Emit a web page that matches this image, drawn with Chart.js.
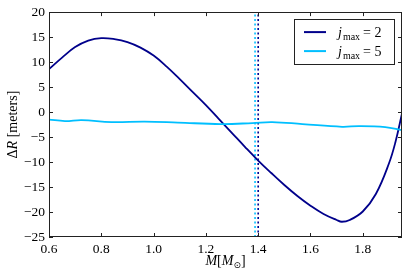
<!DOCTYPE html>
<html><head><meta charset="utf-8">
<script src="https://cdn.jsdelivr.net/npm/chart.js@4/dist/chart.umd.min.js"></script>
<style>html,body{margin:0;padding:0;background:#fff;}#wrap{width:407px;height:274px;}</style>
</head><body><div id="wrap"><canvas id="c" width="407" height="274"></canvas></div>
<script>
// ---- data ----
const massDark = [0.60,0.65,0.70,0.75,0.80,0.85,0.90,0.95,1.00,1.05,1.10,1.15,1.20,1.25,1.30,1.35,1.40,1.45,1.50,1.55,1.60,1.65,1.70,1.72,1.75,1.80,1.85,1.90,1.925,1.95];
const dRDark   = [8.6,10.9,13.0,14.3,14.8,14.6,14.0,12.9,11.3,9.1,6.6,4.0,1.4,-1.4,-4.2,-7.0,-9.7,-12.2,-14.6,-16.8,-18.75,-20.4,-21.6,-21.95,-21.6,-19.9,-16.4,-10.3,-6.0,-0.3];
const massLight = [0.60,0.661,0.725,0.839,0.966,1.093,1.258,1.378,1.454,1.569,1.721,1.785,1.886,1.95];
const dRLight   = [-1.5,-1.8,-1.6,-2.0,-1.9,-2.1,-2.4,-2.2,-2.0,-2.4,-2.95,-2.8,-3.0,-3.6];
const refMassDark = 1.40;
const refMassLight = 1.388;
const seriesJ = ['2','5'];
const xTicks = [0.6,0.8,1.0,1.2,1.4,1.6,1.8];
const xTickLabels = ['0.6','0.8','1.0','1.2','1.4','1.6','1.8'];
const yTicks = [-25,-20,-15,-10,-5,0,5,10,15,20];
const yTickLabels = ['\u221225','\u221220','\u221215','\u221210','\u22125','0','5','10','15','20'];
const xRange = [0.6,1.95];
const yRange = [-25,20];

const DARK = '#00008B', LIGHT = '#00BFFF';
const SERIF = '"Liberation Serif","DejaVu Serif",serif';

function pts(xs, ys){ return xs.map((x,i)=>({x:x,y:ys[i]})); }

const decor = {
  id:'decor',
  afterDraw(chart){
    const ctx = chart.ctx, a = chart.chartArea;
    const xs = chart.scales.x, ys = chart.scales.y;
    ctx.save();
    // frame
    ctx.strokeStyle = '#222'; ctx.lineWidth = 1;
    ctx.strokeRect(Math.round(a.left)+0.5, Math.round(a.top)+0.5, Math.round(a.right-a.left)-1, Math.round(a.bottom-a.top)-1);
    // inner ticks all four sides
    ctx.beginPath();
    const L = 4;
    xTicks.forEach(v=>{
      const px = Math.round(xs.getPixelForValue(v))+0.5;
      ctx.moveTo(px, a.bottom); ctx.lineTo(px, a.bottom-L);
      ctx.moveTo(px, a.top); ctx.lineTo(px, a.top+L);
    });
    yTicks.forEach(v=>{
      const py = Math.round(ys.getPixelForValue(v))+0.5;
      ctx.moveTo(a.left, py); ctx.lineTo(a.left+L, py);
      ctx.moveTo(a.right, py); ctx.lineTo(a.right-L, py);
    });
    ctx.stroke();

    // legend
    const bx = a.right-108, by = a.top+7, bw = 100, bh = 45;
    ctx.fillStyle = '#fff';
    ctx.fillRect(bx, by, bw, bh);
    ctx.strokeStyle = '#222';
    ctx.strokeRect(Math.round(bx)+0.5, Math.round(by)+0.5, bw, bh);
    const rows = [{c:DARK,j:seriesJ[0]},{c:LIGHT,j:seriesJ[1]}];
    rows.forEach((r,i)=>{
      const ly = by + 13 + i*19;
      ctx.strokeStyle = r.c; ctx.lineWidth = 2;
      ctx.beginPath(); ctx.moveTo(bx+10, ly); ctx.lineTo(bx+32, ly); ctx.stroke();
      let tx = bx + 44; const base = ly + 5;
      ctx.fillStyle = '#000'; ctx.textBaseline = 'alphabetic'; ctx.textAlign='left';
      ctx.font = 'italic 14px '+SERIF; ctx.fillText('j', tx, base); tx += ctx.measureText('j').width + 1;
      ctx.font = '10px '+SERIF; ctx.fillText('max', tx, base+3); tx += ctx.measureText('max').width + 3;
      ctx.font = '14px '+SERIF; ctx.fillText('= '+r.j, tx, base);
    });

    // x axis label  M[M⊙]
    ctx.fillStyle = '#000';
    const parts = [
      {t:'M', f:'italic 14px '+SERIF, dy:0},
      {t:'[', f:'14px '+SERIF, dy:0},
      {t:'M', f:'italic 14px '+SERIF, dy:0},
      {t:'\u2299', f:'9px "DejaVu Sans",sans-serif', dy:3},
      {t:']', f:'14px '+SERIF, dy:0}
    ];
    let tot = 0;
    parts.forEach(p=>{ ctx.font=p.f; p.w = ctx.measureText(p.t).width; tot += p.w; });
    let x0 = (a.left+a.right)/2 - tot/2; const xb = 265;
    parts.forEach(p=>{ ctx.font=p.f; ctx.fillText(p.t, x0, xb+p.dy); x0 += p.w; });

    // y axis label  ΔR [meters]
    ctx.save();
    ctx.translate(17, (a.top+a.bottom)/2);
    ctx.rotate(-Math.PI/2);
    const yp = [
      {t:'\u0394', f:'14px '+SERIF},
      {t:'R', f:'italic 14px '+SERIF},
      {t:' [meters]', f:'14px '+SERIF}
    ];
    tot = 0;
    yp.forEach(p=>{ ctx.font=p.f; p.w = ctx.measureText(p.t).width; tot += p.w; });
    x0 = -tot/2;
    yp.forEach(p=>{ ctx.font=p.f; ctx.fillText(p.t, x0, 0); x0 += p.w; });
    ctx.restore();
    ctx.restore();
  }
};

new Chart(document.getElementById('c'), {
  type:'line',
  data:{ datasets:[
    {data:pts(massLight,dRLight), borderColor:LIGHT, borderWidth:1.8, pointRadius:0, tension:0.4, order:1},
    {data:pts(massDark,dRDark), borderColor:DARK, borderWidth:1.8, pointRadius:0, tension:0.4, order:2},
    {data:[{x:refMassLight,y:yRange[0]},{x:refMassLight,y:yRange[1]}], borderColor:LIGHT, borderWidth:1.6, borderDash:[2,2.5], pointRadius:0, order:3},
    {data:[{x:refMassDark,y:yRange[0]},{x:refMassDark,y:yRange[1]}], borderColor:DARK, borderWidth:1.6, borderDash:[2,2.5], pointRadius:0, order:3}
  ]},
  options:{
    responsive:false, animation:false, devicePixelRatio:1,
    layout:{padding:{top:10,right:5,left:0,bottom:0}},
    plugins:{legend:{display:false}, tooltip:{enabled:false}},
    scales:{
      x:{type:'linear', min:xRange[0], max:xRange[1],
        afterBuildTicks:s=>{ s.ticks = xTicks.map(v=>({value:v})); },
        afterFit:s=>{ s.height = 37; },
        grid:{display:false, drawTicks:false},
        border:{display:false},
        ticks:{padding:4, color:'#000', font:{family:SERIF, size:13.5}, maxRotation:0, autoSkip:false,
          callback:(v)=>xTickLabels[xTicks.indexOf(v)]}
      },
      y:{type:'linear', min:yRange[0], max:yRange[1],
        afterBuildTicks:s=>{ s.ticks = yTicks.map(v=>({value:v})); },
        afterFit:s=>{ s.width = 49; },
        grid:{display:false, drawTicks:false},
        border:{display:false},
        ticks:{padding:4, color:'#000', font:{family:SERIF, size:13.5}, autoSkip:false,
          callback:(v)=>yTickLabels[yTicks.indexOf(v)]}
      }
    }
  },
  plugins:[decor]
});
</script></body></html>
